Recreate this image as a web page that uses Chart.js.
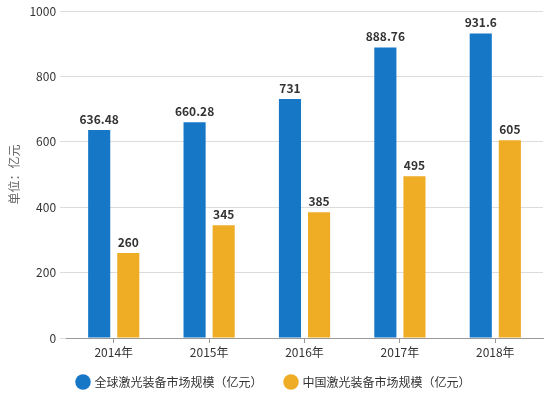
<!DOCTYPE html>
<html><head><meta charset="utf-8">
<script src="https://cdn.jsdelivr.net/npm/chart.js@4.4.1/dist/chart.umd.min.js"></script>
<style>html,body{margin:0;padding:0;background:#fff}#w{width:550px;height:399px}</style>
</head><body><div id="w"><canvas id="c"></canvas></div>
<script>
const categories = ['2014年','2015年','2016年','2017年','2018年'];
const globalValues = [636.48, 660.28, 731, 888.76, 931.6];
const chinaValues = [260, 345, 385, 495, 605];
const seriesNames = ['全球激光装备市场规模（亿元）','中国激光装备市场规模（亿元）'];
const yTicks = [0,200,400,600,800,1000];
const FONT = '"Microsoft YaHei","Noto Sans CJK SC","Noto Sans",sans-serif';

const labelPlugin = {
  id:'labels',
  afterDatasetsDraw(chart){
    const ctx = chart.ctx;
    ctx.save();
    ctx.font = 'bold 12px ' + FONT;
    ctx.fillStyle = '#333';
    ctx.textAlign = 'center';
    ctx.textBaseline = 'bottom';
    chart.data.datasets.forEach((ds,i)=>{
      chart.getDatasetMeta(i).data.forEach((bar,j)=>{
        ctx.fillText(String(ds.data[j]), bar.x, bar.y - 5);
      });
    });
    ctx.restore();
  }
};

const legendFit = {
  id:'legendFit',
  beforeInit(chart){
    const lg = chart.legend;
    if (!lg) return;
    const origFit = lg.fit;
    lg.fit = function(){ origFit.call(this); this.height = 39; };
    const origDraw = lg.draw;
    lg.draw = function(a){ const c = this.ctx; c.save(); c.translate(-1,-7); origDraw.call(this,a); c.restore(); };
  }
};

new Chart(document.getElementById('c'), {
  type:'bar',
  data:{
    labels: categories,
    datasets:[
      {label:seriesNames[0], data:globalValues, backgroundColor:'#1677c7', categoryPercentage:0.61, barPercentage:0.76},
      {label:seriesNames[1], data:chinaValues, backgroundColor:'#efad25', categoryPercentage:0.61, barPercentage:0.76}
    ]
  },
  options:{
    responsive:true, maintainAspectRatio:false, animation:false,
    layout:{padding:{top:-2,right:7,left:7,bottom:0}},
    plugins:{
      legend:{position:'bottom', labels:{usePointStyle:true, pointStyle:'circle', boxWidth:11, boxHeight:11, padding:23, color:'#333', font:{family:FONT,size:12}}},
      tooltip:{enabled:false}
    },
    scales:{
      x:{
        grid:{display:true, drawOnChartArea:false, drawTicks:true, tickLength:5, offset:false, color:'#999'},
        border:{color:'#999'},
        ticks:{color:'#333', font:{family:FONT,size:12}, padding:2},
        afterFit(s){ s.height = 22; }
      },
      y:{
        min:0, max:1000,
        afterBuildTicks(s){ s.ticks = yTicks.map(v=>({value:v})); },
        grid:{color:'#dcdcdc', drawTicks:true, tickLength:6},
        border:{display:false},
        ticks:{color:'#333', font:{family:FONT,size:12}, padding:4, callback:(v)=>String(v)},
        title:{display:true, text:'单位：亿元', color:'#666', font:{family:FONT,size:12}, padding:{top:0,bottom:4}}
      }
    }
  },
  plugins:[labelPlugin, legendFit]
});
</script></body></html>
